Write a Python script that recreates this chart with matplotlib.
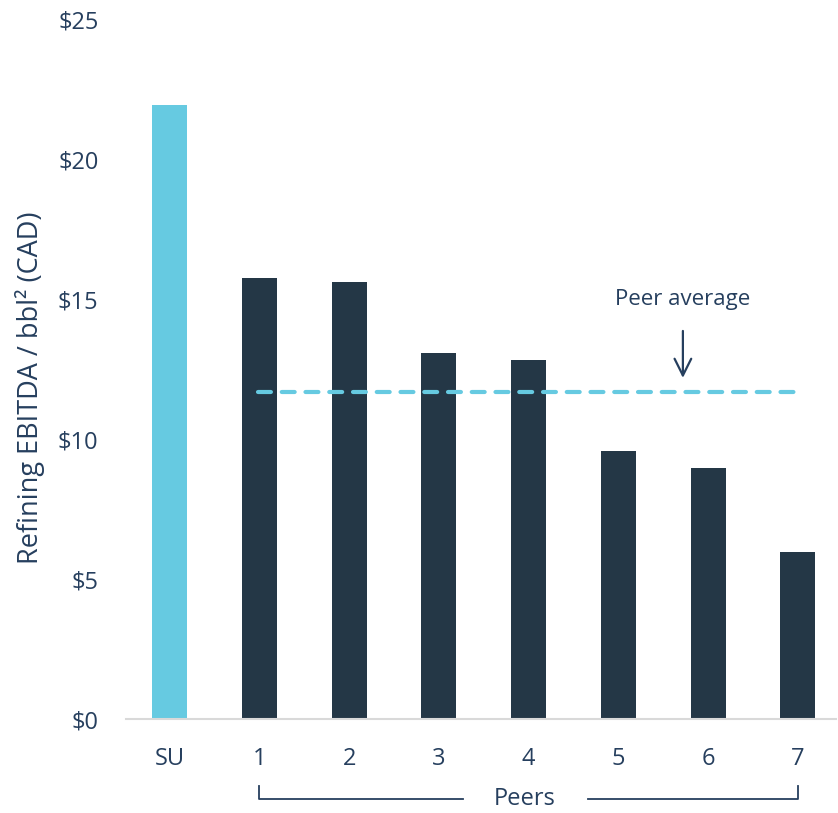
import numpy as np
import matplotlib.pyplot as plt
from matplotlib.transforms import blended_transform_factory

# Dữ liệu
categories = ['SU', '1', '2', '3', '4', '5', '6', '7']
values = [21.95, 15.77, 15.63, 13.09, 12.84, 9.59, 8.98, 5.97]
peer_avg = 11.7
y_ticks = [0, 5, 10, 15, 20, 25]
y_tick_labels = ['$0', '$5', '$10', '$15', '$20', '$25']

plt.rcParams['font.family'] = ['Open Sans', 'DejaVu Sans']
text_color = '#263f5e'
dark = '#243746'
light = '#66cae1'

fig = plt.figure(figsize=(8.38, 8.13), dpi=100)
ax = fig.add_axes([0.150, 0.1156, 0.848, 0.8598])

x = np.arange(len(categories))
colors = [light] + [dark] * (len(categories) - 1)
ax.bar(x, values, width=0.39, color=colors, zorder=2)

# Đường trung bình
ax.plot([0.98, 7.05], [peer_avg, peer_avg], color=light, lw=3,
        linestyle=(0, (3.1, 2.6)), dash_capstyle='round', zorder=3)
ax.annotate('Peer average', xy=(5.72, 12.2), xytext=(5.72, 15.0),
            ha='center', va='center', fontsize=16, color=text_color,
            arrowprops=dict(arrowstyle='->', color=text_color, lw=1.6,
                            mutation_scale=30, shrinkA=13, shrinkB=0))

ax.set_xlim(-0.49, 7.43)
ax.set_ylim(0, 25)
ax.set_xticks(x)
ax.set_xticklabels(categories)
ax.set_yticks(y_ticks)
ax.set_yticklabels(y_tick_labels)
ax.tick_params(length=0, labelsize=17, colors=text_color)
ax.tick_params(axis='y', pad=19.5)
ax.tick_params(axis='x', pad=20)
for s in ['top', 'right', 'left']:
    ax.spines[s].set_visible(False)
ax.spines['bottom'].set_color('#d9d9d9')
ax.spines['bottom'].set_linewidth(1.5)
ax.set_ylabel('Refining EBITDA / bbl² (CAD)', fontsize=19.5, color=text_color)
ax.yaxis.set_label_coords(-0.114, 0.4735)

# Ngoặc nhóm "Peers"
tr = blended_transform_factory(ax.transData, ax.transAxes)
yb = -0.1145
yt = -0.0959
ax.plot([1, 1, 3.27], [yt, yb, yb], color=text_color, lw=1.3, transform=tr, clip_on=False)
ax.plot([4.66, 7, 7], [yb, yb, yt], color=text_color, lw=1.3, transform=tr, clip_on=False)
ax.text(3.96, yb, 'Peers', transform=tr, ha='center', va='center', fontsize=17, color=text_color)

fig.savefig('out.png', dpi=100)
